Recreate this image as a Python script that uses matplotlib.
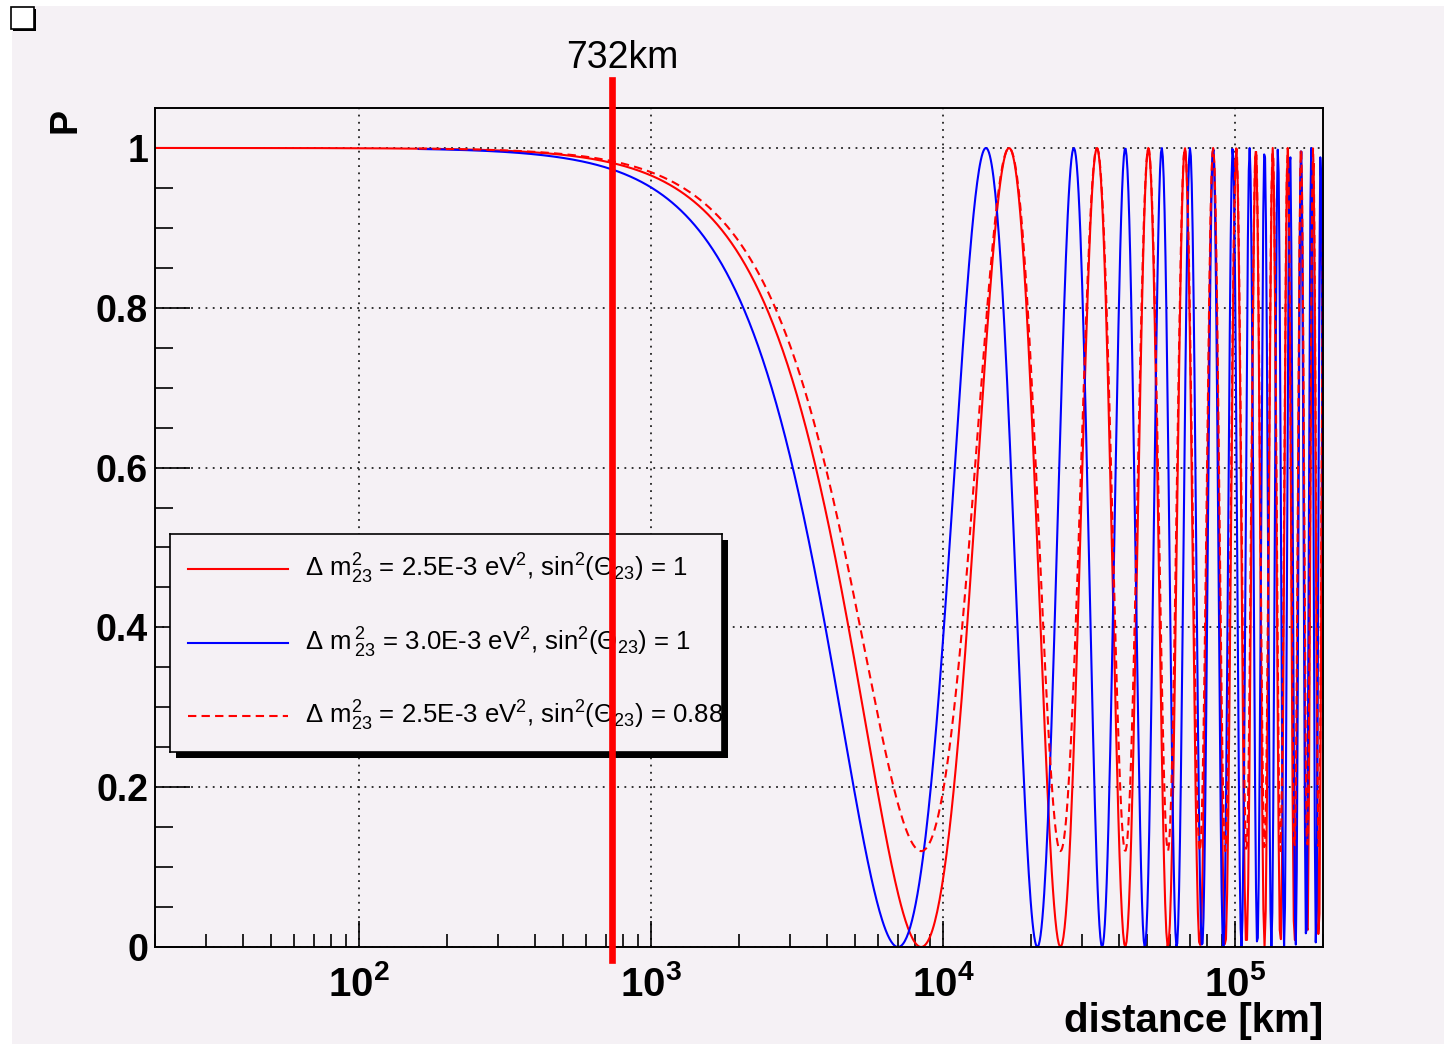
import numpy as np
import matplotlib
matplotlib.use("Agg")
import matplotlib.pyplot as plt
import matplotlib.transforms as mtransforms
from matplotlib.patches import Rectangle
from matplotlib.lines import Line2D
from matplotlib.ticker import FixedLocator, FixedFormatter, LogLocator, NullFormatter

plt.rcParams["font.family"] = ["Liberation Sans", "DejaVu Sans"]
plt.rcParams["mathtext.fontset"] = "custom"
plt.rcParams["mathtext.rm"] = "Liberation Sans"
plt.rcParams["mathtext.it"] = "Liberation Sans:italic"
plt.rcParams["mathtext.bf"] = "Liberation Sans:bold"

# numu survival, CNGS beam energy
E_NU = 17.0                      # GeV
DM2 = [2.5e-3, 3.0e-3, 2.5e-3]   # eV^2
SIN2 = [1.0, 1.0, 0.88]
L_START = [20.0, 160.0, 160.0]   # km
L_END = 2.0e5
NPX = 1000
COLORS = ["#ff0000", "#0000ff", "#ff0000"]
STYLES = ["-", "-", (0, (4, 2.5))]
LABELS = [
    r"$\Delta\ \mathrm{m}^{2}_{23}$ = 2.5E-3 eV$^{2}$, sin$^{2}$($\Theta_{23}$) = 1",
    r"$\Delta\ \mathrm{m}\,{}^{2}_{23}$ = 3.0E-3 eV$^{2}$, sin$^{2}$($\Theta_{23}$) = 1",
    r"$\Delta\ \mathrm{m}^{2}_{23}$ = 2.5E-3 eV$^{2}$, sin$^{2}$($\Theta_{23}$) = 0.88",
]
BASELINE = 732.0
XTICKS = [1e2, 1e3, 1e4, 1e5]
XTICKLABELS = [r"$\mathbf{10^{2}}$", r"$\mathbf{10^{3}}$", r"$\mathbf{10^{4}}$", r"$\mathbf{10^{5}}$"]
YTICKS = [0.0, 0.2, 0.4, 0.6, 0.8, 1.0]
YTICKLABELS = ["0", "0.2", "0.4", "0.6", "0.8", "1"]

BG = "#f5f1f5"
W, H = 1444, 1044


def prob(L, dm2, s2):
    return 1.0 - s2 * np.sin(1.27 * dm2 * L / E_NU) ** 2


def box(x0, y0, x1, y1):
    # pixel box (top-left origin) -> figure fraction rect
    return [x0 / W, 1 - y1 / H, (x1 - x0) / W, (y1 - y0) / H]


fig = plt.figure(figsize=(W / 100, H / 100), dpi=100, facecolor=BG)

# white strips and the little canvas box in the corner
fig.patches.append(Rectangle((0, 1 - 6 / H), 1, 6 / H, transform=fig.transFigure,
                             facecolor="white", edgecolor="none", zorder=0))
fig.patches.append(Rectangle((0, 0), 12 / W, 1, transform=fig.transFigure,
                             facecolor="white", edgecolor="none", zorder=0))
r = box(13, 9, 36, 31)
fig.patches.append(Rectangle((r[0], r[1]), r[2], r[3], transform=fig.transFigure,
                             facecolor="black", edgecolor="none", zorder=1))
r = box(11, 7, 34, 29)
fig.patches.append(Rectangle((r[0], r[1]), r[2], r[3], transform=fig.transFigure,
                             facecolor="white", edgecolor="black", lw=1.2, zorder=1))

ax = fig.add_axes(box(155, 108, 1323, 947))
ax.set_facecolor(BG)
for i in range(3):
    L = np.logspace(np.log10(L_START[i]), np.log10(L_END), NPX)
    ax.plot(L, prob(L, DM2[i], SIN2[i]), color=COLORS[i], ls=STYLES[i], lw=1.5)

ax.set_xscale("log")
ax.set_xlim(20, L_END)
ax.set_ylim(0, 1.05)

ax.xaxis.set_major_locator(FixedLocator(XTICKS))
ax.xaxis.set_major_formatter(FixedFormatter(XTICKLABELS))
ax.xaxis.set_minor_locator(LogLocator(base=10, subs=np.arange(2, 10), numticks=20))
ax.xaxis.set_minor_formatter(NullFormatter())
ax.yaxis.set_major_locator(FixedLocator(YTICKS))
ax.yaxis.set_major_formatter(FixedFormatter(YTICKLABELS))
ax.yaxis.set_minor_locator(FixedLocator(np.arange(0.05, 1.05, 0.05)))

ax.tick_params(axis="x", which="major", direction="in", length=19, width=1.2,
               labelsize=29, pad=13, top=False)
ax.tick_params(axis="x", which="minor", direction="in", length=9.5, width=1.2, top=False)
ax.tick_params(axis="y", which="major", direction="in", length=25, width=1.2,
               labelsize=27, pad=5, right=False)
ax.tick_params(axis="y", which="minor", direction="in", length=13, width=1.2, right=False)
for lab in ax.get_yticklabels():
    lab.set_fontweight("bold")
for s in ax.spines.values():
    s.set_linewidth(1.4)
ax.grid(True, which="major", color="#222222", ls=(0, (1, 3)), lw=1.3)

ax.set_xlabel("distance [km]", fontsize=29, fontweight="bold")
ax.xaxis.set_label_coords(1.0, -0.066)
ax.xaxis.label.set_ha("right")
fig.text(66 / W, 1 - 108 / H, "P", rotation=90, fontsize=27, fontweight="bold",
         ha="center", va="top")

# legend with drop shadow
r = box(176, 540, 728, 758)
fig.patches.append(Rectangle((r[0], r[1]), r[2], r[3], transform=fig.transFigure,
                             facecolor="black", edgecolor="none", zorder=2))
leg = fig.add_axes(box(170, 534, 722, 752), zorder=3)
leg.set_facecolor(BG)
leg.set_xlim(0, 552)
leg.set_ylim(218, 0)
leg.set_xticks([])
leg.set_yticks([])
for s in leg.spines.values():
    s.set_linewidth(1.2)
for i, y in enumerate([35, 109, 182]):
    leg.plot([18, 118], [y, y], color=COLORS[i], ls=STYLES[i], lw=1.5)
    leg.text(135, y, LABELS[i], fontsize=18.5, va="center", ha="left")

# baseline marker
trans = mtransforms.blended_transform_factory(ax.transData, fig.transFigure)
fig.add_artist(Line2D([BASELINE, BASELINE], [1 - 80 / H, 1 - 960 / H], transform=trans,
                      color="#ff0000", lw=4.8, zorder=5))
fig.text(622 / W, 1 - 58 / H, "732km", fontsize=27, ha="center", va="center", zorder=5)

fig.savefig("out.png", dpi=100, facecolor=BG)
